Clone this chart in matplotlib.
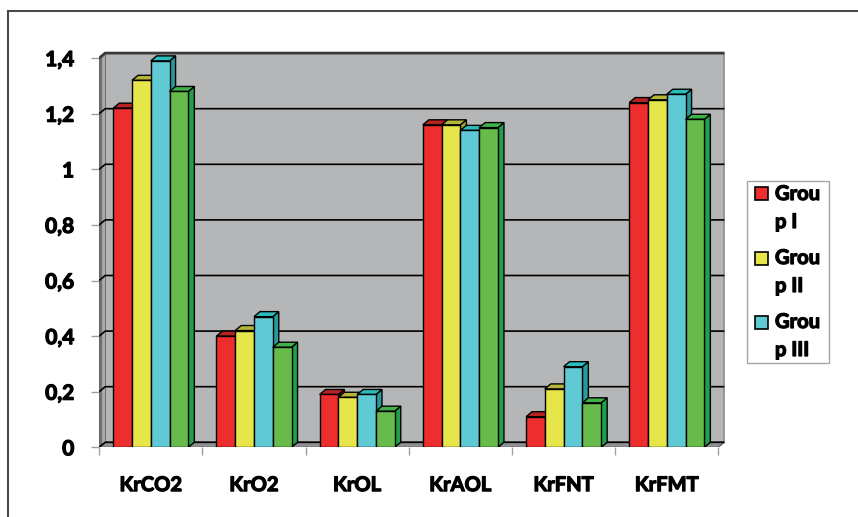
import matplotlib.pyplot as plt
import matplotlib.patheffects as pe
from matplotlib.patches import Polygon, Rectangle
from matplotlib.lines import Line2D

categories = ["KrCO2", "KrO2", "KrOL", "KrAOL", "KrFNT", "KrFMT"]
group_1 = [1.22, 0.40, 0.19, 1.16, 0.11, 1.24]
group_2 = [1.32, 0.42, 0.18, 1.16, 0.21, 1.25]
group_3 = [1.39, 0.47, 0.19, 1.14, 0.29, 1.27]
group_4 = [1.28, 0.36, 0.13, 1.15, 0.16, 1.18]
legend_labels = ["Grou\np I", "Grou\np II", "Grou\np III"]
y_ticks = [0, 0.2, 0.4, 0.6, 0.8, 1.0, 1.2, 1.4]
y_tick_labels = ["0", "0,2", "0,4", "0,6", "0,8", "1", "1,2", "1,4"]

# front / top / side shades for each series
face_colors = ["#ee2e2e", "#e6e64b", "#5fc9d4", "#66bb4a"]
top_colors = ["#b82222", "#b5b53a", "#2bbcbc", "#3fb24c"]
side_colors = ["#a81c1c", "#a5a52e", "#279a9c", "#1fa04a"]

plt.rcParams["font.family"] = ["Lato", "DejaVu Sans"]
plt.rcParams["font.weight"] = "bold"
heavy = [pe.withStroke(linewidth=0.9, foreground="black")]

W, H = 858, 517
fig = plt.figure(figsize=(W / 100, H / 100), dpi=100)
ax = fig.add_axes([99.2 / W, 69.7 / H, 625.4 / W, 1.43 * 278 / H])

n = len(categories)
x0, x1 = -0.5, n - 0.5
top = y_ticks[-1]
dx, dy = 0.058, 0.018  # depth offset of the 3d effect
bar_w = 0.182

ax.set_xlim(x0, x1 + dx + 0.002)
ax.set_ylim(0, 1.43)
for s in ax.spines.values():
    s.set_visible(False)

# back wall, left wall and floor
ax.add_patch(Rectangle((x0 + dx, dy), x1 - x0, top, facecolor="#b4b6b7",
                       edgecolor="#8a8c8e", lw=1.2, zorder=1))
ax.add_patch(Polygon([(x0, 0), (x0, top), (x0 + dx, top + dy), (x0 + dx, dy)],
                     closed=True, facecolor="#707274", edgecolor="#555759",
                     lw=0.8, zorder=2))
ax.add_patch(Polygon([(x0 + dx * 0.5, dy * 0.5), (x0 + dx * 0.5, top + dy * 0.5),
                      (x0 + dx, top + dy), (x0 + dx, dy)],
                     closed=True, facecolor="#a9abad", lw=0, zorder=2))
ax.add_patch(Polygon([(x0, 0), (x1, 0), (x1 + dx, dy), (x0 + dx, dy)],
                     closed=True, facecolor="#8e9092", edgecolor="#555759",
                     lw=0.8, zorder=2))

# gridlines run across the left wall and along the back wall
for v in y_ticks:
    color, lw = ("#3a3a3a", 2.0) if v == top else ("black", 1.2)
    ax.plot([x0, x0 + dx, x1 + dx], [v, v + dy, v + dy],
            color=color, lw=lw, zorder=3, solid_capstyle="butt")

# 3d columns: side, top, then front face
series = [group_1, group_2, group_3, group_4]
for c in range(n):
    for i, vals in enumerate(series):
        left = c + (i - 2) * bar_w
        v = vals[c]
        z = 4 + i
        ax.add_patch(Polygon([(left + bar_w, 0), (left + bar_w + dx, dy),
                              (left + bar_w + dx, v + dy), (left + bar_w, v)],
                             closed=True, facecolor=side_colors[i],
                             edgecolor="black", lw=1.0, zorder=z))
        ax.add_patch(Polygon([(left, v), (left + dx, v + dy),
                              (left + bar_w + dx, v + dy), (left + bar_w, v)],
                             closed=True, facecolor=top_colors[i],
                             edgecolor="black", lw=1.0, zorder=z))
        ax.bar(left, v, width=bar_w, align="edge", color=face_colors[i],
               edgecolor="black", lw=1.0, zorder=z)

ax.set_yticks(y_ticks, y_tick_labels)
ax.tick_params(axis="y", length=6, width=1, color="#a0a0a0", pad=12,
               labelsize=15)
ax.set_xticks([x0 + k for k in range(n + 1)], [""] * (n + 1))
ax.set_xticks(range(n), categories, minor=True)
ax.tick_params(axis="x", which="major", length=6, width=1, color="#a0a0a0")
ax.tick_params(axis="x", which="minor", length=0, pad=20, labelsize=14.5)
for lbl in ax.get_yticklabels() + ax.get_xticklabels(minor=True):
    lbl.set_path_effects(heavy)

# legend box with wrapped labels
fig.add_artist(Rectangle((746.5 / W, 1 - 362.5 / H), 82.5 / W, 182 / H,
                         transform=fig.transFigure, facecolor="white",
                         edgecolor="#a6a6a6", lw=1.0))
for i, label in enumerate(legend_labels):
    y = 194 + 64 * i
    fig.add_artist(Rectangle((755 / W, 1 - (y + 6.5) / H), 13 / W, 13 / H,
                             transform=fig.transFigure,
                             facecolor=face_colors[i], edgecolor="black",
                             lw=1.2))
    first, second = label.split("\n")
    fig.text(775 / W, 1 - y / H, first, fontsize=14.5, va="center",
             path_effects=heavy)
    fig.text(775 / W, 1 - (y + 28) / H, second, fontsize=14.5, va="center",
             path_effects=heavy)

# chart frame (only top and left edges visible)
fig.add_artist(Line2D([8 / W, 1], [1 - 11 / H, 1 - 11 / H],
                      transform=fig.transFigure, color="#4a4a4a", lw=1.5))
fig.add_artist(Line2D([8 / W, 8 / W], [1 - 11 / H, 0],
                      transform=fig.transFigure, color="#4a4a4a", lw=1.5))

fig.savefig("out.png", dpi=100)
